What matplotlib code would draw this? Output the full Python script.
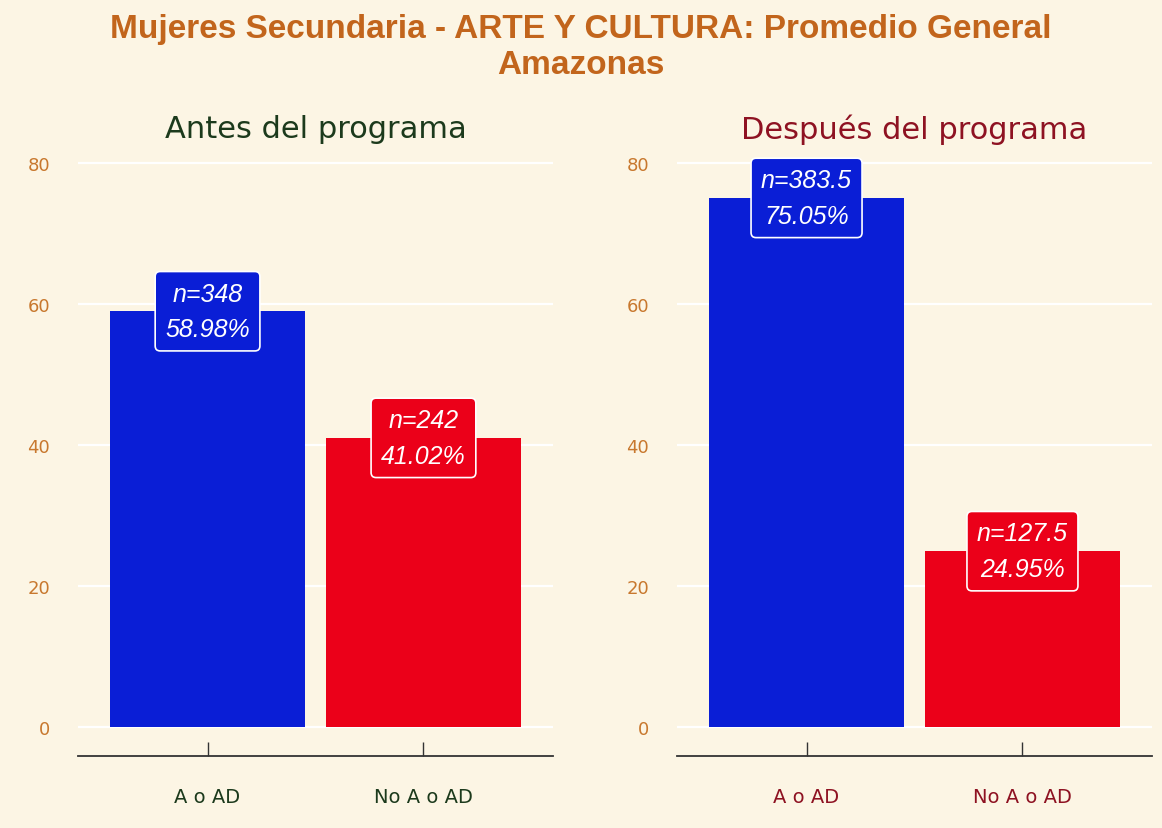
import matplotlib.pyplot as plt
import numpy as np

# datos
categorias = ['A o AD', 'No A o AD']
n_antes = [348, 242]
pct_antes = [58.98, 41.02]
n_despues = [383.5, 127.5]
pct_despues = [75.05, 24.95]
yticks = [0, 20, 40, 60, 80]

fondo = '#FCF5E4'
colores = ['#0A1ED6', '#EB0019']
naranja = '#C8782E'

plt.rcParams['font.family'] = 'DejaVu Sans'

fig = plt.figure(figsize=(11.62, 8.29), dpi=100, facecolor=fondo)

fig.text(0.5, 1 - 14 / 829,
         'Mujeres Secundaria - ARTE Y CULTURA: Promedio General\nAmazonas',
         ha='center', va='top', fontsize=24, fontweight='bold',
         color='#C2651C', family='Liberation Sans', linespacing=1.2)


def panel(ax, n_vals, pct_vals, titulo, color_txt):
    ax.set_facecolor(fondo)
    x = np.arange(1, len(categorias) + 1)
    ax.bar(x, pct_vals, width=0.9, color=colores, zorder=2)
    ax.set_xlim(0.4, 2.6)
    ax.set_ylim(-4.1, 86)
    ax.set_yticks(yticks)
    ax.set_yticklabels([str(v) for v in yticks], color=naranja, fontsize=13)
    ax.set_xticks(x)
    ax.set_xticklabels(categorias, color=color_txt, fontsize=14,
                       fontweight='medium')
    for v in yticks:
        ax.axhline(v, color='white', lw=1.6, zorder=1)
    for s in ['top', 'right', 'left']:
        ax.spines[s].set_visible(False)
    ax.spines['bottom'].set_color('#333333')
    ax.spines['bottom'].set_linewidth(1.3)
    ax.tick_params(axis='y', length=0, pad=20)
    ax.tick_params(axis='x', direction='in', length=10, width=1,
                   color='#333333', pad=22)
    for xi, n, p, c in zip(x, n_vals, pct_vals, colores):
        ax.text(xi, p, f'n={n:g}\n{p:.2f}%', ha='center', va='center',
                color='white', fontsize=18, style='italic',
                family='Liberation Sans', linespacing=1.6, zorder=3,
                bbox=dict(boxstyle='round,pad=0.4,rounding_size=0.2',
                          fc=c, ec='white', lw=1.2))
    pos = ax.get_position()
    fig.text((pos.x0 + pos.x1) / 2, 1 - 130 / 829, titulo, ha='center',
             va='center', fontsize=22, color=color_txt)


ax1 = fig.add_axes([78 / 1162, 1 - 757 / 829, 475 / 1162, (757 - 121.7) / 829])
ax2 = fig.add_axes([677 / 1162, 1 - 757 / 829, 475 / 1162, (757 - 121.7) / 829])

panel(ax1, n_antes, pct_antes, 'Antes del programa', '#1C3A1C')
panel(ax2, n_despues, pct_despues, 'Después del programa', '#8E1222')

fig.savefig('out.png', dpi=100, facecolor=fondo)
